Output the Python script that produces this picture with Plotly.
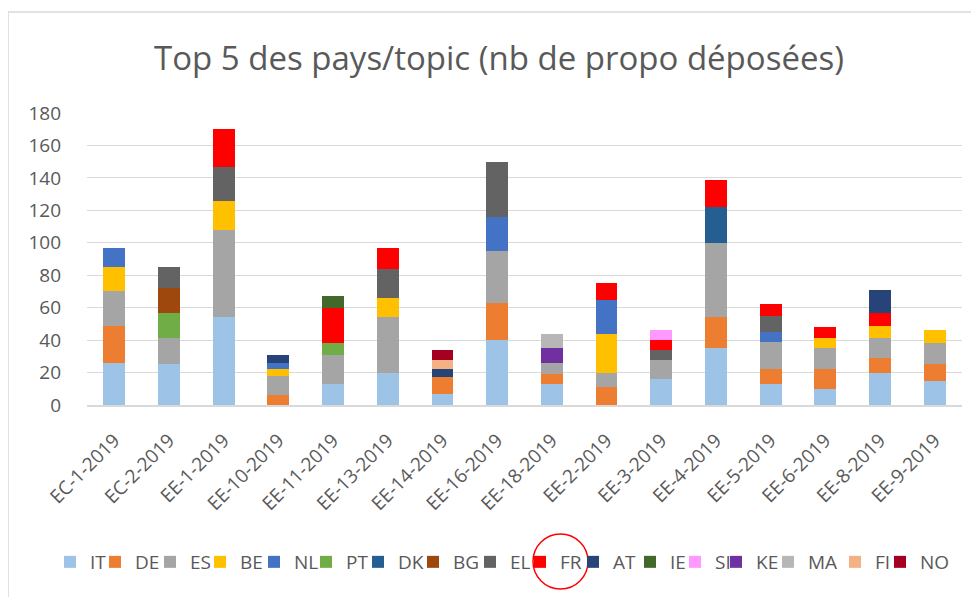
import plotly.graph_objects as go

categories = ["EC-1-2019", "EC-2-2019", "EE-1-2019", "EE-10-2019", "EE-11-2019",
              "EE-13-2019", "EE-14-2019", "EE-16-2019", "EE-18-2019", "EE-2-2019",
              "EE-3-2019", "EE-4-2019", "EE-5-2019", "EE-6-2019", "EE-8-2019", "EE-9-2019"]

IT = [26, 25, 54, 0, 13, 20, 7, 40, 13, 0, 16, 35, 13, 10, 20, 15]
DE = [23, 0, 0, 6, 0, 0, 10, 23, 6, 11, 0, 19, 9, 12, 9, 10]
ES = [21, 16, 54, 12, 18, 34, 0, 32, 7, 9, 12, 46, 17, 13, 12, 13]
BE = [15, 0, 18, 4, 0, 12, 0, 0, 0, 24, 0, 0, 0, 6, 8, 8]
NL = [12, 0, 0, 4, 0, 0, 0, 21, 0, 21, 0, 0, 6, 0, 0, 0]
PT = [0, 16, 0, 0, 7, 0, 0, 0, 0, 0, 0, 0, 0, 0, 0, 0]
DK = [0, 0, 0, 0, 0, 0, 0, 0, 0, 0, 0, 22, 0, 0, 0, 0]
BG = [0, 15, 0, 0, 0, 0, 0, 0, 0, 0, 0, 0, 0, 0, 0, 0]
EL = [0, 13, 21, 0, 0, 18, 0, 34, 0, 0, 6, 0, 10, 0, 0, 0]
FR = [0, 0, 23, 0, 22, 13, 0, 0, 0, 10, 6, 17, 7, 7, 8, 0]
AT = [0, 0, 0, 5, 0, 0, 5, 0, 0, 0, 0, 0, 0, 0, 14, 0]
IE = [0, 0, 0, 0, 7, 0, 0, 0, 0, 0, 0, 0, 0, 0, 0, 0]
SI = [0, 0, 0, 0, 0, 0, 0, 0, 0, 0, 6, 0, 0, 0, 0, 0]
KE = [0, 0, 0, 0, 0, 0, 0, 0, 9, 0, 0, 0, 0, 0, 0, 0]
MA = [0, 0, 0, 0, 0, 0, 0, 0, 9, 0, 0, 0, 0, 0, 0, 0]
FI = [0, 0, 0, 0, 0, 0, 6, 0, 0, 0, 0, 0, 0, 0, 0, 0]
NO = [0, 0, 0, 0, 0, 0, 6, 0, 0, 0, 0, 0, 0, 0, 0, 0]

series = [("IT", IT), ("DE", DE), ("ES", ES), ("BE", BE), ("NL", NL), ("PT", PT),
          ("DK", DK), ("BG", BG), ("EL", EL), ("FR", FR), ("AT", AT), ("IE", IE),
          ("SI", SI), ("KE", KE), ("MA", MA), ("FI", FI), ("NO", NO)]

colors = {"IT": "#9DC3E6", "DE": "#ED7D31", "ES": "#A5A5A5", "BE": "#FFC000",
          "NL": "#4472C4", "PT": "#70AD47", "DK": "#255E91", "BG": "#9E480E",
          "EL": "#636363", "FR": "#FF0000", "AT": "#264478", "IE": "#43682B",
          "SI": "#FF99FF", "KE": "#7030A0", "MA": "#B7B7B7", "FI": "#F4B183",
          "NO": "#A50021"}

# screen x of each legend swatch (layout only)
legend_swatch_x = [67, 112, 167, 217, 271, 323, 375, 430, 487, 537, 590, 647,
                   692, 733, 785, 852, 897]

FONT = "Open Sans"
TXT = "#595959"

OFF = 8  # page body margin
W, H = 979 - OFF, 597 - OFF
L, T = 87 - OFF, 113 - OFF
R = W - (962 - OFF)
B = H - (405 - OFF)
pw, ph = W - L - R, H - T - B


def px(X):
    return (X - OFF - L) / pw


def py(Y):
    return (H - B - (Y - OFF)) / ph


fig = go.Figure()
layout_legends = {}
for i, (name, vals) in enumerate(series):
    key = "legend" if i == 0 else f"legend{i + 1}"
    fig.add_trace(go.Bar(name=name, x=categories, y=vals, legend=key,
                         marker=dict(color=colors[name], line=dict(width=0))))
    layout_legends[key] = dict(
        orientation="h", x=px(legend_swatch_x[i] - 17), xanchor="left",
        y=py(562), yanchor="middle", bgcolor="rgba(0,0,0,0)",
        font=dict(size=19, color=TXT, family=FONT), itemwidth=30)

fig.update_layout(
    barmode="stack",
    bargap=0.6,
    width=W, height=H,
    margin=dict(l=L, r=R, t=T, b=B, autoexpand=False),
    paper_bgcolor="white", plot_bgcolor="white",
    font=dict(family=FONT, color=TXT),
    title=dict(text="Top 5 des pays/topic (nb de propo déposées)",
               x=px(499), xanchor="center", xref="paper",
               y=1 - (58 - OFF) / H, yanchor="middle",
               font=dict(size=33, family=FONT, color=TXT)),
    xaxis=dict(tickangle=-45, tickfont=dict(size=19, color=TXT),
               showgrid=False, showline=True, linecolor="#D9D9D9", linewidth=1.5,
               ticks="", ticklabelstandoff=15),
    yaxis=dict(range=[0, 180], dtick=20, tickfont=dict(size=19, color=TXT),
               showgrid=True, gridcolor="#D9D9D9", gridwidth=1.2,
               zeroline=False, showline=False, ticks="", ticklabelstandoff=25),
    showlegend=True,
    **layout_legends,
)

# chart frame border
fig.add_shape(type="rect", xref="paper", yref="paper",
              x0=px(8), x1=px(1000), y0=py(12), y1=py(620),
              line=dict(color="#D9D9D9", width=1.5), layer="below")
# red circle highlighting FR in legend
fig.add_shape(type="circle", xref="paper", yref="paper",
              x0=px(533), x1=px(588), y0=py(534), y1=py(589),
              line=dict(color="#FF0000", width=1.5))

fig.write_html("out.html")
